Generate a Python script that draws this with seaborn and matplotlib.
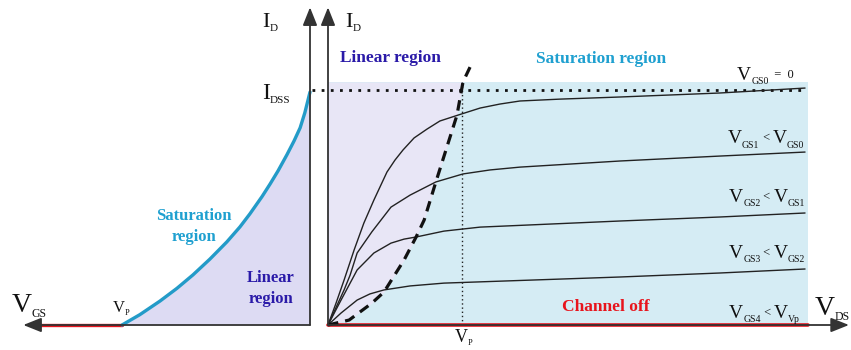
import numpy as np
import pandas as pd
import matplotlib
matplotlib.use("Agg")
import matplotlib.pyplot as plt
import seaborn as sns

# ---------------------------------------------------------------------------
# JFET characteristics: transfer curve (left) and output curves (right)
# ---------------------------------------------------------------------------

# Transfer characteristic, I_D (mA) versus V_GS (V)
vgs_transfer = [-4.0, -3.62, -3.19, -2.83, -2.49, -2.13, -1.77, -1.49, -1.28,
                -1.02, -0.85, -0.68, -0.49, -0.34, -0.21, -0.11, 0.0]
id_transfer = [0.0, 0.44, 1.02, 1.56, 2.13, 2.80, 3.53, 4.17, 4.72,
               5.46, 5.99, 6.55, 7.24, 7.82, 8.38, 9.02, 9.90]
vgs_cutoff = [-5.85, -4.0]
id_cutoff = [0.0, 0.0]

IDSS = 10.0          # mA
VP_DS = 4.0          # pinch-off drain voltage, V
VDS_MAX = 14.33      # right end of the drawn curves, V
ID_TOP = 10.33       # top of the shaded regions, mA

# Output characteristics, I_D (mA) versus V_DS (V) for each gate voltage
vds_g0 = [0, 0.24, 0.48, 0.78, 1.07, 1.37, 1.76, 2.00, 2.24, 2.57, 2.96,
          3.34, 3.88, 4.54, 5.13, 5.73, 6.93, 8.72, 11.70, 14.24]
id_g0 = [0, 0.93, 1.91, 3.19, 4.33, 5.31, 6.50, 7.01, 7.44, 7.95, 8.33,
         8.67, 8.92, 9.22, 9.39, 9.52, 9.60, 9.69, 9.86, 10.07]
vds_g1 = [0, 0.48, 0.66, 0.87, 1.31, 1.88, 2.45, 3.22, 4.03, 4.84, 5.73,
          8.72, 11.70, 14.24]
id_g1 = [0, 1.49, 2.12, 3.06, 3.96, 5.01, 5.52, 6.08, 6.42, 6.59, 6.71,
         6.97, 7.18, 7.35]
vds_g2 = [0, 0.39, 0.87, 1.37, 1.88, 2.27, 2.63, 3.46, 4.54, 8.72, 11.70,
          14.24]
id_g2 = [0, 1.06, 2.34, 3.06, 3.48, 3.65, 3.74, 3.99, 4.16, 4.42, 4.59,
         4.76]
vds_g3 = [0, 0.39, 0.87, 1.25, 1.67, 2.45, 3.46, 8.72, 11.70, 14.24]
id_g3 = [0, 0.51, 1.06, 1.32, 1.49, 1.66, 1.78, 2.04, 2.21, 2.38]
vds_g4 = [0, VDS_MAX]
id_g4 = [0, 0]

# Boundary between the linear and saturation regions (V_DS = V_GS - V_P)
vds_edge = [0, 0.63, 1.31, 1.67, 2.27, 2.63, 2.87, 3.22, 3.85, 4.03, 4.24]
id_edge = [0, 0.21, 0.93, 1.40, 2.76, 3.74, 4.46, 6.08, 8.92, 10.33, 10.96]

curve_labels = [
    [("V", 14, 0), ("GS0", 7, 4.5), ("  =  0", 9, -2)],
    [("V", 14, 0), ("GS1", 7, 4.5), (" < ", 9, -2), ("V", 14, 0), ("GS0", 7, 4.5)],
    [("V", 14, 0), ("GS2", 7, 4.5), (" < ", 9, -2), ("V", 14, 0), ("GS1", 7, 4.5)],
    [("V", 14, 0), ("GS3", 7, 4.5), (" < ", 9, -2), ("V", 14, 0), ("GS2", 7, 4.5)],
    [("V", 14, 0), ("GS4", 7, 4.5), (" < ", 9, -2), ("V", 14, 0), ("Vp", 7, 4.5)],
]

# Colours
LAV_LEFT = "#dddbf3"
LAV_RIGHT = "#e8e6f6"
CYAN = "#d5ecf4"
BLUE = "#239bc8"
RED = "#e8141c"
AXIS = "#333333"
INDIGO = "#2a1aa8"
SKY = "#1fa0d0"

sns.set_theme(style="white")
plt.rcParams["font.family"] = ["Liberation Serif", "DejaVu Serif"]

W, H = 851, 350
fig = plt.figure(figsize=(W / 100, H / 100), dpi=100)
renderer = fig.canvas.get_renderer()


def panel(x0, y0, sx, sy):
    """Full-figure axes whose data origin sits at pixel (x0, y0)."""
    ax = fig.add_axes([0, 0, 1, 1])
    ax.set_xlim(-x0 / sx, (W - x0) / sx)
    ax.set_ylim(-(H - y0) / sy, y0 / sy)
    ax.axis("off")
    ax.patch.set_alpha(0)
    return ax


def arrow(ax, start, tip):
    ax.annotate("", xy=tip, xytext=start,
                arrowprops=dict(arrowstyle="-|>,head_length=0.55,head_width=0.22",
                                mutation_scale=20, lw=1.3, color=AXIS,
                                shrinkA=0, shrinkB=0))


def run(x, y, parts, color="#111111"):
    """Place a run of text pieces (main text and subscripts) from pixel x."""
    for text, size, dy in parts:
        t = fig.text(x / W, 1 - (y + dy) / H, text, fontsize=size,
                     ha="left", va="baseline", color=color)
        x += t.get_window_extent(renderer).width


def put(x, y, s, **kw):
    fig.text(x / W, 1 - y / H, s, va="baseline", **kw)


SY = 23.53
# ---------------- left: transfer characteristic ----------------
axl = panel(310, 325, 47.0, SY)
axl.fill_between(vgs_transfer, id_transfer, 0, color=LAV_LEFT, lw=0)
arrow(axl, (0, 0), (0, 13.5))
arrow(axl, (0, 0), (-6.1, 0))
sns.lineplot(x=vgs_cutoff, y=id_cutoff, ax=axl, color=RED, lw=2.4, sort=False)
sns.lineplot(x=vgs_transfer, y=id_transfer, ax=axl, color=BLUE, lw=2.4,
             sort=False)

# ---------------- right: output characteristics ----------------
axr = panel(328, 325, 33.5, SY)
axr.fill_between([0, VDS_MAX], 0, ID_TOP, color=CYAN, lw=0)
k = id_edge.index(ID_TOP) + 1
axr.fill_betweenx(id_edge[:k], 0, vds_edge[:k], color=LAV_RIGHT, lw=0)
arrow(axr, (0, 0), (0, 13.5))
arrow(axr, (0, 0), (15.55, 0))

axr.plot([VP_DS, VP_DS], [0, ID_TOP], color="#222222", lw=1.0,
         linestyle=(0, (1, 2)))
axr.plot([-0.48, 14.2], [IDSS, IDSS], color="#111111", lw=2.0,
         linestyle=(0, (1, 2.3)))

curves = pd.DataFrame({
    "vds": vds_g0 + vds_g1 + vds_g2 + vds_g3,
    "id": id_g0 + id_g1 + id_g2 + id_g3,
    "curve": (["g0"] * len(vds_g0) + ["g1"] * len(vds_g1)
              + ["g2"] * len(vds_g2) + ["g3"] * len(vds_g3)),
})
sns.lineplot(data=curves, x="vds", y="id", units="curve", estimator=None,
             sort=False, color="#222222", lw=1.0, ax=axr, legend=False)
sns.lineplot(x=vds_g4, y=id_g4, ax=axr, color=RED, lw=2.6, sort=False)
sns.lineplot(x=vds_edge, y=id_edge, ax=axr, color="#111111", lw=2.3,
             sort=False, linestyle=(0, (3.3, 2.2)))

# ---------------- text ----------------
run(262, 27, [("I", 16, 0), ("D", 8, 4)])
run(262, 99, [("I", 17, 0), ("DSS", 8, 4)])
run(345, 27, [("I", 16, 0), ("D", 8, 4)])
run(12, 312, [("V", 20, 0), ("GS", 8.5, 5)])
run(113, 312, [("V", 12, 0), ("P", 6, 3)])
run(455, 342, [("V", 13, 0), ("P", 6, 3)])
run(815, 315, [("V", 20, 0), ("DS", 8.5, 5)])

label_y = [80, 143, 202, 258, 318]
label_x = [737, 728, 729, 729, 729]
for lx, ly, parts in zip(label_x, label_y, curve_labels):
    run(lx, ly, parts)

bold = dict(fontweight="bold", ha="center")
put(194, 220, "Saturation", color=SKY, fontsize=12, **bold)
put(194, 241, "region", color=SKY, fontsize=12, **bold)
put(271, 282, "Linear", color=INDIGO, fontsize=12, **bold)
put(271, 303, "region", color=INDIGO, fontsize=12, **bold)
put(390, 62, "Linear region", color=INDIGO, fontsize=12.5, **bold)
put(601, 63, "Saturation region", color=SKY, fontsize=12.5, **bold)
put(606, 311, "Channel off", color=RED, fontsize=12.5, **bold)

fig.savefig("out.png", dpi=100)
